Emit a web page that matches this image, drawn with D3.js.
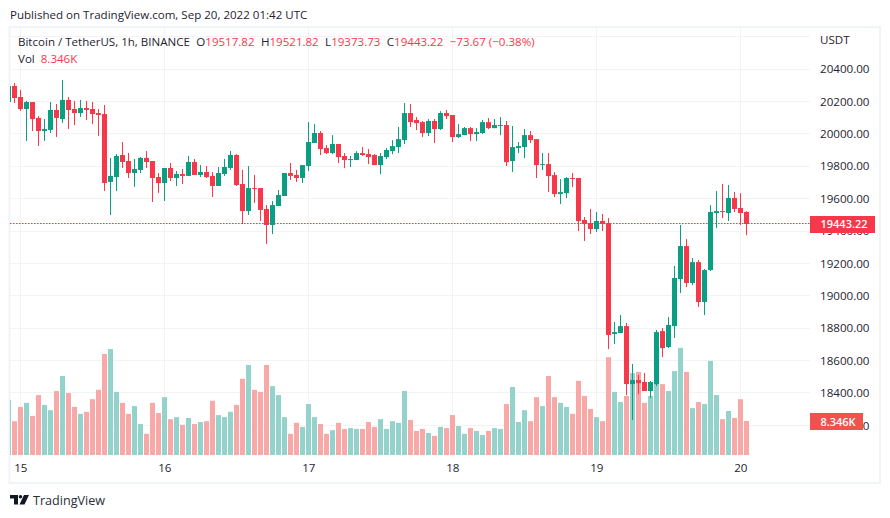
<!DOCTYPE html>
<html><head><meta charset="utf-8">
<script src="https://d3js.org/d3.v7.min.js"></script>
<style>html,body{margin:0;padding:0;background:#fff}svg{display:block}text{font-family:"Open Sans",sans-serif}</style>
</head><body><svg id="c" width="890" height="518"></svg>
<script>
const opens=[20196,20295,20227,20153,20196,20098,20017,20024,20147,20091,20209,20153,20128,20159,20153,20128,20122,19703,19733,19869,19832,19758,19777,19851,19832,19733,19696,19789,19727,19752,19740,19826,19746,19764,19740,19678,19752,19789,19869,19690,19523,19665,19665,19536,19437,19554,19616,19758,19746,
19727,19801,19943,20005,19912,19881,19937,19863,19838,19838,19881,19875,19869,19807,19856,19893,19918,19961,20128,20085,20072,20005,20079,20029,20128,20116,19980,19992,20035,19998,20005,20072,20035,20048,20054,19832,19912,19918,19992,19967,19807,19813,19745,19628,19634,19727,19727,
19468,19449,19412,19462,19449,18764,18770,18813,18455,18480,18468,18412,18455,18782,18684,18813,19103,19307,19079,19208,18962,19159,19511,19523,19511,19604,19542,19517.82];
const highs=[20295,20314,20271,20203,20196,20110,20091,20196,20184,20332,20227,20203,20209,20203,20196,20153,20178,19851,19875,19949,19882,19845,19857,19894,19832,19758,19789,19820,19770,19783,19863,19845,19807,19801,19764,19795,19845,19894,19875,19777,19801,19746,19665,19560,19585,19653,19758,19820,19777,
19807,20072,20060,20017,19930,19992,19937,19881,19863,19893,19918,19906,19875,19881,19912,19961,20042,20190,20184,20103,20079,20091,20091,20140,20147,20116,20060,20042,20042,20035,20085,20097,20091,20103,20079,20048,19949,20029,20017,19967,19881,19881,19764,19720,19733,19758,19727,
19486,19536,19517,19505,19480,18838,18881,18832,18579,18511,18523,18474,18789,18801,18869,19184,19437,19350,19233,19221,19165,19560,19647,19690,19684,19641,19634,19521.82];
const lows=[20190,20190,20141,19956,20017,19925,19956,20005,19980,20067,20030,20054,20104,20085,20061,19987,19647,19499,19647,19789,19727,19672,19758,19789,19579,19635,19585,19709,19678,19690,19740,19746,19733,19727,19610,19678,19740,19777,19678,19443,19499,19573,19462,19320,19381,19554,19616,19715,19703,
19696,19770,19943,19869,19875,19875,19819,19788,19795,19838,19863,19813,19807,19751,19844,19875,19881,19937,20042,20023,19980,19986,19943,20023,20091,19949,19974,19992,19955,19955,19998,20029,20035,19992,19801,19764,19881,19850,19943,19727,19776,19640,19609,19566,19603,19671,19399,
19338,19381,19394,19400,18671,18702,18770,18387,18233,18393,18412,18369,18443,18622,18677,18739,19017,19054,19066,18931,18881,19153,19418,19480,19462,19517,19437,19373.73];
const closes=[20295,20221,20153,20196,20091,20017,20030,20147,20098,20209,20147,20128,20159,20147,20122,20116,19696,19740,19863,19826,19758,19783,19851,19826,19727,19696,19789,19727,19752,19740,19826,19746,19764,19733,19678,19758,19795,19869,19684,19523,19665,19659,19530,19437,19560,19622,19758,19740,19727,
19807,19949,20005,19906,19881,19937,19856,19838,19844,19881,19869,19856,19807,19863,19900,19924,19967,20128,20072,20066,20005,20079,20029,20128,20109,19980,19998,20035,19998,20011,20072,20035,20054,20054,19825,19918,19924,19992,19961,19807,19813,19739,19628,19640,19727,19721,19461,
19443,19412,19462,19443,18758,18776,18813,18455,18480,18461,18412,18468,18776,18677,18820,19110,19307,19079,19208,18962,19159,19517,19523,19517,19604,19536,19511,19443.22];
const volume=[13.5,8.3,11.8,12.8,9.6,14.7,12.3,11.0,15.7,19.4,15.2,11.8,10.1,10.6,13.7,16.0,24.8,26.0,15.5,12.8,10.1,12.0,7.6,5.2,12.8,10.3,14.2,8.8,9.3,7.4,9.1,7.6,8.1,8.3,13.3,9.8,9.3,10.6,12.3,18.7,22.1,16.0,15.5,22.1,16.9,14.7,9.3,5.2,7.9,
6.9,12.5,9.3,7.6,5.2,6.1,7.9,6.4,6.6,6.4,6.4,8.1,6.9,8.8,6.4,8.3,7.9,15.7,8.6,5.9,6.4,5.4,4.7,6.9,6.6,9.8,7.1,5.2,6.6,5.9,4.9,5.9,6.6,6.4,12.5,16.7,8.1,11.0,8.3,14.2,12.0,19.4,14.2,12.8,11.8,10.1,18.2,
14.5,11.3,9.3,8.3,24.0,15.5,13.0,14.5,20.1,20.4,12.8,14.5,17.6,17.4,15.7,20.6,26.3,20.4,11.5,13.0,12.5,23.1,14.7,8.8,10.8,9.1,13.7,8.346];
const priceTicks=[20400,20200,20000,19800,19600,19400,19200,19000,18800,18600,18400,18200];
const gridPrices=[20600,...priceTicks];
const dayTicks=[2,26,50,74,98,122];
const dayLabels=["15","16","17","18","19","20"];
const lastPrice=19443.22, lastVolume=8.346;
const legendParts=[["Bitcoin / TetherUS, 1h, BINANCE",0],["O",1],["19517.82",2],["H",1],["19521.82",2],["L",1],["19373.73",2],["C",1],["19443.22",2],["−73.67 (−0.38%)",3]];

const RED="#f7374a",GREEN="#0a9e82",VRED="#f9a8a8",VGREEN="#93d3cc",GRID="#f3f3f5",FRAME="#f0f3fa",TXT="#1f2330";
const svg=d3.select("#c");
const paneL=10,paneR=810,paneT=28,paneB=458;
const idx=opens.map((_,i)=>i);
const x=d3.scaleLinear().domain([0,123]).range([8.3,746.3]);
const y=d3.scaleLinear().domain([18200,20400]).range([425.4,69]);
const v=d3.scaleLinear().domain([0,lastVolume]).range([455,421]);
const snap=p=>Math.round(p-0.5)+0.5;

svg.append("defs").append("clipPath").attr("id","pane").append("rect").attr("x",paneL).attr("y",paneT).attr("width",paneR-paneL).attr("height",paneB-paneT);
svg.append("rect").attr("x",9.5).attr("y",27).attr("width",870.5).attr("height",456).attr("fill","none").attr("stroke",FRAME).attr("stroke-width",2);

svg.append("text").attr("x",10).attr("y",19).attr("font-size",11.55).attr("fill",TXT).text("Published on TradingView.com, Sep 20, 2022 01:42 UTC");

const g=svg.append("g");
g.selectAll("line.h").data(gridPrices).join("line").attr("class","h").attr("x1",paneL).attr("x2",paneR)
 .attr("y1",d=>snap(y(d))).attr("y2",d=>snap(y(d))).attr("stroke",GRID);
g.selectAll("line.v").data(dayTicks).join("line").attr("class","v").attr("y1",paneT).attr("y2",paneB)
 .attr("x1",d=>snap(x(d))).attr("x2",d=>snap(x(d))).attr("stroke",GRID);

const pane=svg.append("g").attr("clip-path","url(#pane)");
pane.selectAll("rect.vol").data(idx).join("rect").attr("class","vol")
 .attr("x",i=>Math.round(x(i)-2.5)).attr("width",5)
 .attr("y",i=>v(volume[i])).attr("height",i=>v(0)-v(volume[i]))
 .attr("fill",i=>closes[i]>=opens[i]?VGREEN:VRED);
pane.selectAll("line.wick").data(idx).join("line").attr("class","wick")
 .attr("x1",i=>Math.round(x(i)-0.5)+0.5).attr("x2",i=>Math.round(x(i)-0.5)+0.5)
 .attr("y1",i=>y(highs[i])).attr("y2",i=>y(lows[i]))
 .attr("stroke",i=>closes[i]>=opens[i]?GREEN:RED);
pane.selectAll("rect.body").data(idx).join("rect").attr("class","body")
 .attr("x",i=>Math.round(x(i)-2.5)).attr("width",5)
 .attr("y",i=>y(Math.max(opens[i],closes[i]))).attr("height",i=>Math.max(1,Math.abs(y(opens[i])-y(closes[i]))))
 .attr("fill",i=>closes[i]>=opens[i]?GREEN:RED);
svg.append("line").attr("x1",paneL).attr("x2",paneR).attr("y1",snap(y(lastPrice))).attr("y2",snap(y(lastPrice)))
 .attr("stroke",RED).attr("stroke-dasharray","1.6 1.4");

const axY=svg.append("g").attr("transform",`translate(${paneR},0)`)
 .call(d3.axisRight(y).tickValues(priceTicks).tickSize(0).tickPadding(10).tickFormat(d3.format(".2f")));
axY.select(".domain").remove();
axY.selectAll("text").attr("font-size",11.6).attr("fill",TXT).style("font-family",'"Open Sans",sans-serif');
svg.append("text").attr("x",820).attr("y",44).attr("font-size",11.6).attr("fill",TXT).text("USDT");

const axX=svg.append("g").attr("transform",`translate(0,460.5)`)
 .call(d3.axisBottom(x).tickValues(dayTicks).tickSize(0).tickPadding(3).tickFormat((d,i)=>dayLabels[i]));
axX.select(".domain").remove();
axX.selectAll("text").attr("font-size",11.6).attr("fill",TXT).style("font-family",'"Open Sans",sans-serif');

svg.append("rect").attr("x",810).attr("y",y(lastPrice)-8).attr("width",65).attr("height",17).attr("fill",RED);
svg.append("text").attr("x",844).attr("y",y(lastPrice)+4.5).attr("text-anchor","middle").attr("font-size",11).attr("font-weight",600).attr("fill","#fff").text(lastPrice.toFixed(2));
svg.append("rect").attr("x",810).attr("y",v(lastVolume)-8).attr("width",53).attr("height",17).attr("fill","#ef5350");
svg.append("text").attr("x",838).attr("y",v(lastVolume)+4.5).attr("text-anchor","middle").attr("font-size",11).attr("font-weight",600).attr("fill","#fff").text(lastVolume.toFixed(3)+"K");

const lg=svg.append("text").attr("x",18).attr("y",46).attr("font-size",11.55);
legendParts.forEach(([t,k])=>{
 lg.append("tspan").attr("dx",k===1||k===3?6.4:0).attr("fill",k<2?TXT:RED).text(t);
});
const lv=svg.append("text").attr("x",18).attr("y",63).attr("font-size",11.55);
lv.append("tspan").attr("fill",TXT).text("Vol");
lv.append("tspan").attr("dx",6).attr("fill",RED).text(lastVolume.toFixed(3)+"K");

const logo=svg.append("g").attr("transform","translate(10,495)").attr("fill","#131722");
logo.append("path").attr("d","M0 0H8V9.5H4V3.5H0Z");
logo.append("circle").attr("cx",10.5).attr("cy",1.8).attr("r",1.8);
logo.append("path").attr("d","M14 0H19L14.5 9.5H9.5Z");
svg.append("text").attr("x",33).attr("y",505).attr("font-size",12.6).attr("fill","#2a2e39").text("TradingView");
</script></body></html>
